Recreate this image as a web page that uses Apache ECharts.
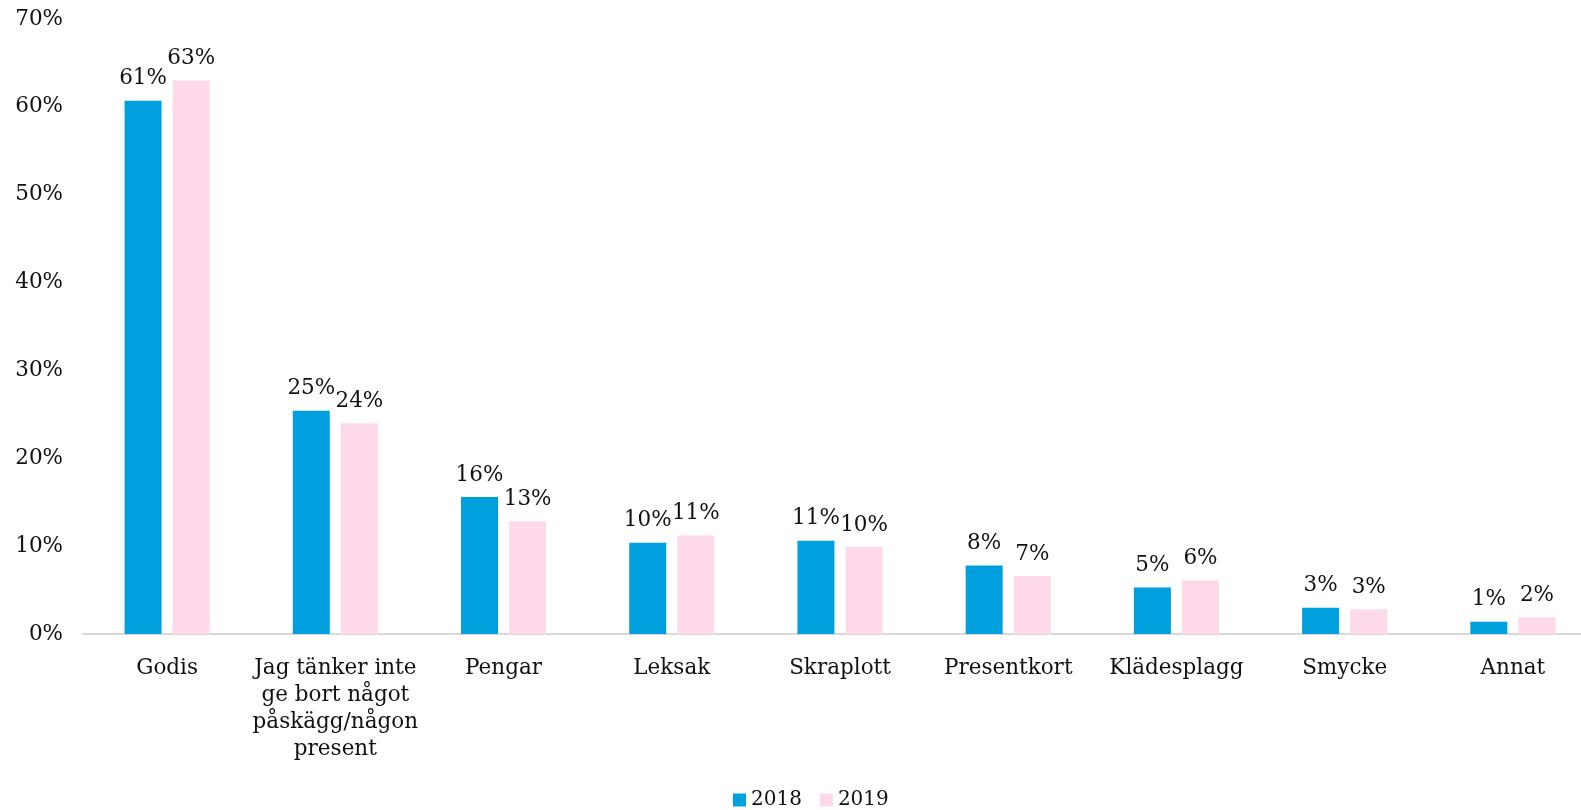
<!DOCTYPE html>
<html>
<head>
<meta charset="utf-8">
<script src="https://cdn.jsdelivr.net/npm/echarts@6/dist/echarts.min.js"></script>
<style>
html,body{margin:0;padding:0;background:#fff;}
#chart{width:1581px;height:810px;}
</style>
</head>
<body>
<div id="chart"></div>
<script>
const categories = ["Godis", "Jag tänker inte\nge bort något\npåskägg/någon\npresent", "Pengar", "Leksak", "Skraplott", "Presentkort", "Klädesplagg", "Smycke", "Annat"];
const values2018 = [60.7, 25.4, 15.6, 10.4, 10.6, 7.8, 5.3, 3.0, 1.4];
const values2019 = [63.0, 24.0, 12.8, 11.2, 9.9, 6.6, 6.1, 2.8, 1.9];
const seriesNames = ["2018", "2019"];
const yTicks = [0, 10, 20, 30, 40, 50, 60, 70];

const FONT = "DejaVu Serif";
const FS = 21.5;
const chart = echarts.init(document.getElementById('chart'));
const labelCfg = {
  show: true, position: 'top', distance: 11,
  fontFamily: FONT, fontSize: FS, color: '#111',
  formatter: p => Math.round(p.value) + '%'
};
chart.setOption({
  animation: false,
  textStyle: { fontFamily: FONT },
  grid: { left: 83, width: 1514, top: 19, bottom: 176, outerBoundsMode: 'none', containLabel: false },
  legend: {
    bottom: 0, left: 733, padding: 0,
    itemWidth: 13, itemHeight: 13, itemGap: 18,
    icon: 'rect',
    textStyle: { fontFamily: FONT, fontSize: 20, color: '#111' },
    data: seriesNames
  },
  xAxis: {
    type: 'category',
    data: categories,
    axisLine: { lineStyle: { color: '#d9d9d9', width: 2 } },
    axisTick: { show: false },
    axisLabel: {
      interval: 0, margin: 21,
      fontFamily: FONT, fontSize: FS, color: '#111', lineHeight: 27
    }
  },
  yAxis: {
    type: 'value',
    min: yTicks[0], max: yTicks[yTicks.length - 1], interval: 10,
    splitLine: { show: false },
    axisLine: { show: false },
    axisTick: { show: false },
    axisLabel: {
      margin: 20,
      fontFamily: FONT, fontSize: FS, color: '#111',
      formatter: v => v + '%'
    }
  },
  series: [
    {
      name: seriesNames[0], type: 'bar', data: values2018,
      barWidth: 37, barGap: '30%',
      itemStyle: { color: '#00A0DE' },
      label: labelCfg
    },
    {
      name: seriesNames[1], type: 'bar', data: values2019,
      barWidth: 37,
      itemStyle: { color: '#FDD9EA' },
      label: labelCfg
    }
  ]
});
</script>
</body>
</html>
